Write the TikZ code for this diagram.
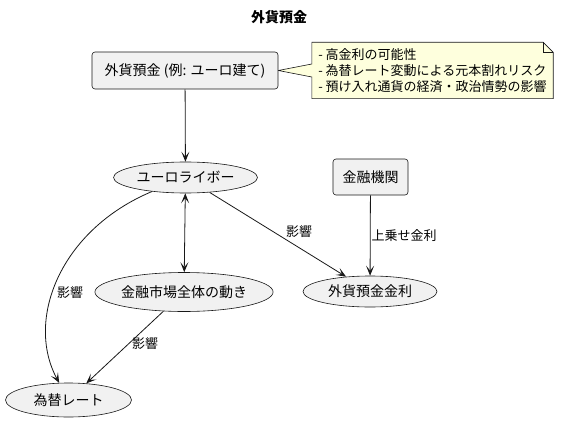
\documentclass[tikz,border=0pt]{standalone}
\usepackage{fontspec}
\setmainfont{Noto Sans CJK JP}
\usetikzlibrary{arrows.meta,shapes.geometric,backgrounds}

\definecolor{umlline}{HTML}{181818}
\definecolor{umlfill}{HTML}{F1F1F1}
\definecolor{notefill}{HTML}{FEFFDD}

\begin{document}
\begin{tikzpicture}[x=1pt,y=-1pt,
    box/.style={draw=umlline,fill=umlfill,line width=0.6pt,rounded corners=3pt,inner sep=0pt,font=\fontsize{14}{16}\selectfont},
    oval/.style={draw=umlline,fill=umlfill,line width=0.6pt,ellipse,inner sep=0pt,font=\fontsize{14}{16}\selectfont},
    lbl/.style={font=\fontsize{13}{15}\selectfont,inner sep=1pt},
    edge/.style={draw=umlline,line width=0.8pt,-{Stealth[length=10pt,width=8pt,inset=5pt]}}]
    \useasboundingbox (0,0) rectangle (569,422);

    \node[font=\bfseries\fontsize{14}{16}\selectfont] (title) at (279,17) {外貨預金};

    \node[box,minimum width=186pt,minimum height=37pt] (deposit) at (185,70.5) {外貨預金 (例: ユーロ建て)};
    \node[font=\fontsize{13}{16}\selectfont,align=left,minimum width=241pt,minimum height=56pt,inner sep=0pt] (note) at (432.5,70.5) {- 高金利の可能性\\- 為替レート変動による元本割れリスク\\- 預け入れ通貨の経済・政治情勢の影響};

    \node[oval,minimum width=144pt,minimum height=31pt] (libor) at (185.5,177.5) {ユーロライボー};
    \node[box,minimum width=75pt,minimum height=36pt] (bank) at (370.5,177) {金融機関};
    \node[oval,minimum width=168pt,minimum height=39pt] (market) at (184,292) {金融市場全体の動き};
    \node[oval,minimum width=134pt,minimum height=31pt] (rate) at (370,291.5) {外貨預金金利};
    \node[oval,minimum width=126pt,minimum height=34pt] (fx) at (68.5,400) {為替レート};

    % note
    \begin{scope}[on background layer]
    \draw[umlline,line width=0.6pt,fill=notefill] (note.north west) -- ([xshift=-10pt]note.north east) -- ([yshift=-10pt]note.north east) -- (note.south east) -- (note.south west) -- (note.west |- 0,77) -- (deposit.east) -- (note.west |- 0,64) -- cycle;
    \end{scope}
    \draw[umlline,line width=0.6pt] ([xshift=-10pt]note.north east) -- ([xshift=-10pt,yshift=-10pt]note.north east) -- ([yshift=-10pt]note.north east);

    % arrows
    \draw[edge] (deposit) -- (libor);
    \draw[edge,{Stealth[length=10pt,width=8pt,inset=5pt]}-{Stealth[length=10pt,width=8pt,inset=5pt]}] (libor) -- (market);
    \draw[edge] (libor) -- node[lbl,pos=0.55,above right] {影響} (rate);
    \draw[edge] (bank) -- node[lbl,right] {上乗せ金利} (rate);
    \draw[edge] (libor) .. controls (60,230) and (25,320) .. (fx);
    \node[lbl] (lblcurve) at (70,293) {影響};
    \draw[edge] (market) -- node[lbl,pos=0.45,right=2pt] {影響} (fx);
\end{tikzpicture}
\end{document}
